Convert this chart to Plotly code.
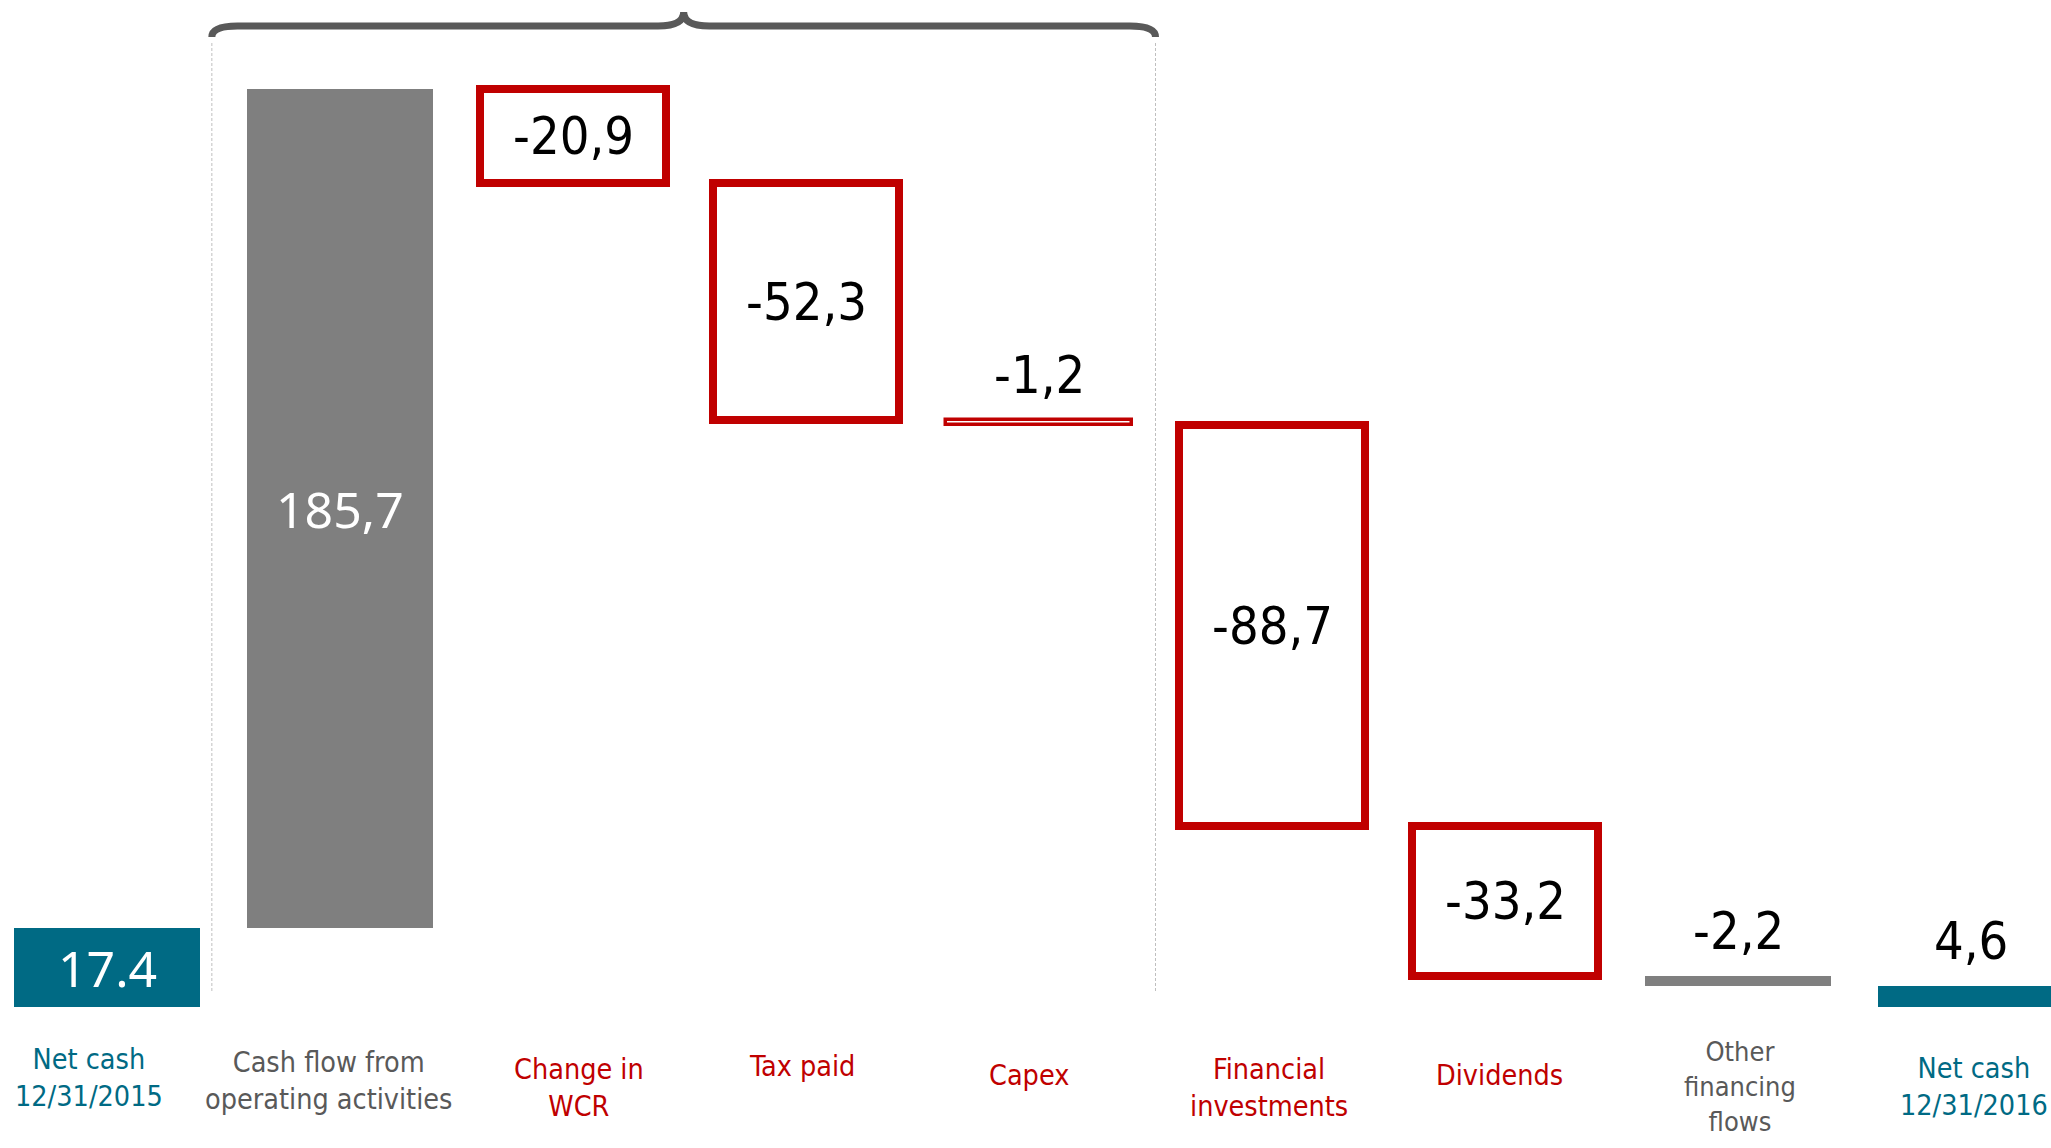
import plotly.graph_objects as go

# ---------------- data ----------------
categories = ["Net cash<br>12/31/2015", "Cash flow from<br>operating activities", "Change in<br>WCR",
              "Tax paid", "Capex", "Financial<br>investments", "Dividends",
              "Other<br>financing<br>flows", "Net cash<br>12/31/2016"]
values = [17.4, 185.7, -20.9, -52.3, -1.2, -88.7, -33.2, -2.2, 4.6]
measures = ["total", "relative", "relative", "relative", "relative", "relative", "relative", "relative", "total"]
value_labels = ["17.4", "185,7", "-20,9", "-52,3", "-1,2", "-88,7", "-33,2", "-2,2", "4,6"]

# ---------------- styles ----------------
TEAL = "#006A84"
GRAY = "#7F7F7F"
RED = "#C00000"
TXTGRAY = "#595959"
fill_colors = [TEAL, GRAY, "white", "white", "white", "white", "white", GRAY, TEAL]
line_colors = [TEAL, GRAY, RED, RED, RED, RED, RED, GRAY, TEAL]
line_widths = [0, 0, 8, 8, 3.5, 8, 8, 0, 0]
label_inside = [True, True, True, True, False, True, True, False, False]
label_colors = ["white", "white", "black", "black", "black", "black", "black", "black", "black"]
cat_colors = [TEAL, TXTGRAY, RED, RED, RED, RED, RED, TXTGRAY, TEAL]
cat_xshift = [-18, -12, 6, -4, -10, -3, -6, 2, 3]
cat_ypx = [1078, 1081, 1088, 1066, 1075, 1088, 1075, 1086, 1087]
cat_sizes = [28.5, 28.5, 28.5, 28.5, 28.5, 28.5, 28.5, 27, 28.5]

W, H = 2051, 1148
PX_PER_UNIT = 4.52
BASE_PX = 1007
X0_PX, STEP_PX = 107, 233

COND = "DejaVu Sans Condensed, Liberation Sans Narrow, Arial Narrow, sans-serif"

# ---------------- waterfall geometry ----------------
bases, heights = [], []
running = 0.0
for v, m in zip(values, measures):
    if m == "total":
        bases.append(0.0)
        heights.append(v)
        running = v
    else:
        start, end = running, running + v
        bases.append(min(start, end))
        heights.append(abs(v))
        running = end

xs = list(range(len(values)))

fig = go.Figure()
fig.add_trace(go.Bar(
    x=xs, y=heights, base=bases, width=0.8,
    marker=dict(color=fill_colors, line=dict(color=line_colors, width=line_widths)),
    hoverinfo="skip", showlegend=False,
))

annotations = []
for i in xs:
    if label_inside[i]:
        y = bases[i] + heights[i] / 2
        yshift = 0
    else:
        y = bases[i] + heights[i]
        yshift = 45
    if i < 2:
        font = dict(family="Noto Sans, Open Sans, sans-serif", size=50, color=label_colors[i])
    else:
        font = dict(family=COND, size=52, color=label_colors[i])
    annotations.append(dict(x=i, y=y, xref="x", yref="y", text=value_labels[i], showarrow=False,
                            xanchor="center", yanchor="middle", yshift=yshift, font=font))
    annotations.append(dict(x=i, y=1 - cat_ypx[i] / H, xref="x", yref="paper", text=categories[i],
                            showarrow=False, xanchor="center", yanchor="middle", xshift=cat_xshift[i],
                            align="center", font=dict(family=COND, size=cat_sizes[i], color=cat_colors[i])))

# ---------------- brace + dashed guides ----------------
xl, xr = 0.45, 4.5
xm = (xl + xr) / 2
y_end = (BASE_PX - 37) / PX_PER_UNIT
y_line = (BASE_PX - 26) / PX_PER_UNIT
y_peak = (BASE_PX - 12) / PX_PER_UNIT
r = 0.11
brace = (f"M {xl},{y_end} Q {xl},{y_line} {xl + r},{y_line} L {xm - r},{y_line} "
         f"Q {xm},{y_line} {xm},{y_peak} Q {xm},{y_line} {xm + r},{y_line} "
         f"L {xr - r},{y_line} Q {xr},{y_line} {xr},{y_end}")
shapes = [
    dict(type="path", path=brace, xref="x", yref="y", line=dict(color="#595959", width=7)),
]
for xv in (xl, xr):
    shapes.append(dict(type="line", xref="x", yref="y", x0=xv, x1=xv,
                       y0=(BASE_PX - 43) / PX_PER_UNIT, y1=(BASE_PX - 991) / PX_PER_UNIT,
                       line=dict(color="#BFBFBF", width=1, dash="3px,2px")))

fig.update_layout(
    width=W, height=H,
    margin=dict(l=0, r=0, t=0, b=0),
    paper_bgcolor="white", plot_bgcolor="white",
    xaxis=dict(visible=False, range=[-X0_PX / STEP_PX, (W - X0_PX) / STEP_PX]),
    yaxis=dict(visible=False, range=[-(H - BASE_PX) / PX_PER_UNIT, BASE_PX / PX_PER_UNIT]),
    annotations=annotations, shapes=shapes, bargap=0,
)

fig.write_html("out.html")
